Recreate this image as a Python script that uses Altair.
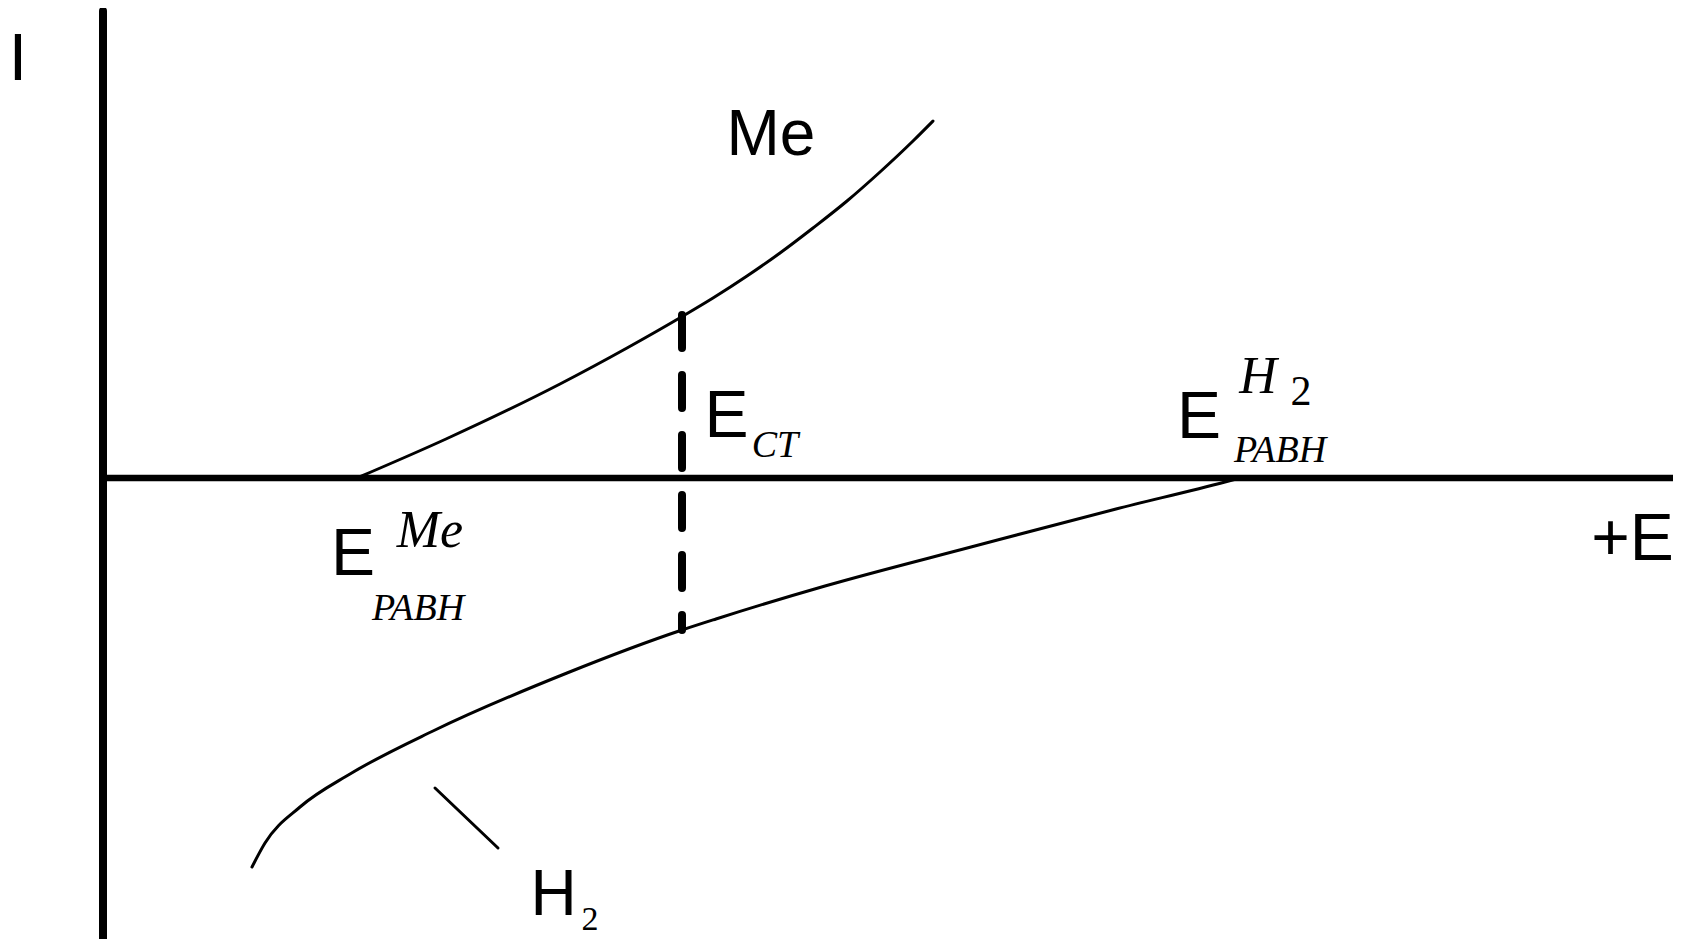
import altair as alt
import pandas as pd

# ---- curves (E along the horizontal axis, I along the vertical axis) ----
me_E = [2.54, 3.43, 4.57, 5.24, 5.80, 6.10, 6.44, 6.77, 7.10, 7.44, 7.77, 8.10, 8.30]
me_I = [0.00, 0.39, 0.94, 1.30, 1.62, 1.80, 2.02, 2.25, 2.50, 2.77, 3.06, 3.37, 3.57]

h2_E = [1.49, 1.62, 1.97, 2.47, 3.30, 4.64, 5.79, 6.13, 7.22, 8.68, 10.13, 11.22, 11.37]
h2_I = [-3.89, -3.65, -3.29, -2.96, -2.53, -1.95, -1.52, -1.41, -1.08, -0.69, -0.31, -0.04, 0.00]

# E_CT vertical dashed marker
ect_E = [5.79]
ect_I_top = [1.63]
ect_I_bot = [-1.52]

# axes
vaxis_E = [0.0]
vaxis_I = [4.67, -4.65]
haxis_I = [0.0]
haxis_E = [0.0, 15.70]

# short leader line pointing at the H2 curve
lead_E = [3.32, 3.95]
lead_I = [-3.10, -3.70]

# ---- labels ----
sans66_text = ["I", "E", "E", "E", "+E"]
sans66_E = [-0.85, 6.235, 10.96, 2.50, 15.295]
sans66_I = [3.98, 0.41, 0.40, -0.97, -0.82]

sans64_text = ["Me", "H"]
sans64_E = [6.68, 4.505]
sans64_I = [3.23, -4.37]

pabh_text = ["CT", "PABH", "PABH"]
pabh_E = [6.72, 11.77, 3.15]
pabh_I = [0.21, 0.16, -1.42]

ital_sup_text = ["H", "Me"]
ital_sup_E = [11.55, 3.27]
ital_sup_I = [0.85, -0.69]

sup_digit_text = ["2"]
sup_digit_E = [11.98]
sup_digit_I = [0.73]

sub_digit_text = ["2"]
sub_digit_E = [4.87]
sub_digit_I = [-4.52]

# ---- scales ----
xs = alt.Scale(domain=[-0.95, 15.70], nice=False, zero=False)
ys = alt.Scale(domain=[-4.61, 4.70], nice=False, zero=False)


def X(f="E"):
    return alt.X(f"{f}:Q", scale=xs, axis=None)


def Y(f="I"):
    return alt.Y(f"{f}:Q", scale=ys, axis=None)


def curve(E, I, width):
    df = pd.DataFrame({"E": E, "I": I, "k": list(range(len(E)))})
    return alt.Chart(df).mark_line(
        color="black", strokeWidth=width, interpolate="monotone", strokeCap="round"
    ).encode(x=X(), y=Y(), order="k:Q")


def text_layer(txt, E, I, font, size, style="normal"):
    df = pd.DataFrame({"label": txt, "E": E, "I": I})
    return alt.Chart(df).mark_text(
        font=font, fontSize=size, fontStyle=style, align="center",
        baseline="alphabetic", color="black"
    ).encode(x=X(), y=Y(), text="label:N")


vaxis = alt.Chart(pd.DataFrame({"E": vaxis_E, "I": [vaxis_I[0]], "I2": [vaxis_I[1]]})).mark_rule(
    color="black", strokeWidth=8, strokeCap="round"
).encode(x=X(), y=Y(), y2="I2:Q")

haxis = alt.Chart(pd.DataFrame({"E": [haxis_E[0]], "E2": [haxis_E[1]], "I": haxis_I})).mark_rule(
    color="black", strokeWidth=6.5
).encode(x=X(), x2="E2:Q", y=Y())

dashed = alt.Chart(pd.DataFrame({"E": ect_E, "I": ect_I_top, "I2": ect_I_bot})).mark_rule(
    color="black", strokeWidth=8, strokeCap="round", strokeDash=[33, 27]
).encode(x=X(), y=Y(), y2="I2:Q")

leader = curve(lead_E, lead_I, 3)

SANS = "Liberation Sans"
SERIF = "Liberation Serif"

layers = [
    haxis,
    vaxis,
    curve(me_E, me_I, 3),
    curve(h2_E, h2_I, 3),
    dashed,
    leader,
    text_layer(sans66_text, sans66_E, sans66_I, SANS, 66),
    text_layer(sans64_text, sans64_E, sans64_I, SANS, 64),
    text_layer(pabh_text, pabh_E, pabh_I, SERIF, 38, "italic"),
    text_layer(ital_sup_text, ital_sup_E, ital_sup_I, SERIF, 52, "italic"),
    text_layer(sup_digit_text, sup_digit_E, sup_digit_I, SERIF, 42),
    text_layer(sub_digit_text, sub_digit_E, sub_digit_I, SERIF, 34),
]

chart = alt.layer(*layers).properties(
    width=1665, height=931, padding=0,
    autosize=alt.AutoSizeParams(type="none"),
    background="white",
).configure_view(stroke=None)

chart.save("out.html", embed_options={"renderer": "svg", "actions": False})
